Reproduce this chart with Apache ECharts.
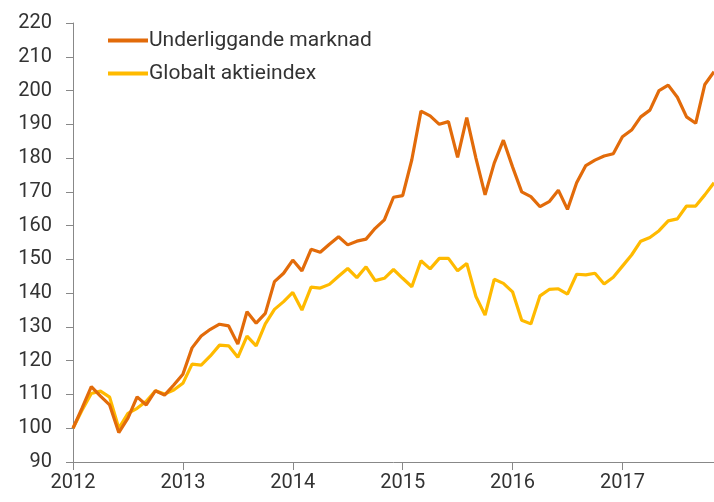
<!DOCTYPE html>
<html>
<head>
<meta charset="utf-8">
<script src="https://cdn.jsdelivr.net/npm/echarts@6/dist/echarts.min.js"></script>
<style>
  html, body { margin: 0; padding: 0; background: #fff; }
  #chart { width: 714px; height: 502px; }
</style>
</head>
<body>
<div id="chart"></div>
<script>
// monthly index values, Jan 2012 = 100
const startYear = 2012;
const seriesNames = ['Underliggande marknad', 'Globalt aktieindex'];
const marknad = [
  100, 106, 112.3, 109.5, 106.9, 98.7, 103, 109.3, 106.9, 111.1, 109.8, 112.8,
  116, 123.8, 127.3, 129.3, 130.8, 130.3, 124.9, 134.5, 131.1, 134, 143.4, 145.9,
  149.8, 146.6, 153, 152.1, 154.5, 156.7, 154.3, 155.4, 156, 159.2, 161.7, 168.4,
  168.9, 179.5, 193.9, 192.5, 190, 190.8, 180.2, 192, 180, 169.1, 178.5, 185.3,
  177.4, 170, 168.6, 165.6, 167.1, 170.5, 164.8, 172.7, 177.8, 179.4, 180.6, 181.3,
  186.3, 188.3, 192.2, 194.2, 200, 201.6, 198, 192.2, 190.3, 201.8, 205.6
];
const aktieindex = [
  100, 105.4, 110.3, 111, 109.2, 100, 104.4, 105.9, 108, 111.1, 110.1, 111.3,
  113.3, 119, 118.7, 121.4, 124.6, 124.4, 121, 127.3, 124.4, 130.9, 135.2, 137.5,
  140.2, 135, 141.8, 141.5, 142.6, 145, 147.3, 144.6, 147.8, 143.7, 144.4, 147,
  144.4, 141.9, 149.6, 147.2, 150.3, 150.3, 146.6, 148.8, 139, 133.5, 144.1, 142.9,
  140.4, 132, 130.9, 139.2, 141.1, 141.3, 139.7, 145.6, 145.4, 145.9, 142.7, 144.7,
  148, 151.3, 155.4, 156.5, 158.5, 161.4, 162, 165.8, 165.8, 169.1, 172.7
];

const colors = ['#E26B0A', '#FFBA00'];
const fontFamily = 'Roboto, "Noto Sans", sans-serif';

const toPoints = (arr) => arr.map((v, i) => [i, v]);

const chart = echarts.init(document.getElementById('chart'));
const option = {
  animation: false,
  color: colors,
  grid: { left: 73, right: 0, top: 23, bottom: 40 },
  legend: {
    orient: 'vertical',
    left: 103,
    top: 25,
    icon: 'rect',
    itemWidth: 40,
    itemHeight: 4,
    itemGap: 12,
    textStyle: { color: '#333', fontSize: 21, fontFamily: fontFamily, padding: [0, 0, 0, -4] },
    data: seriesNames
  },
  xAxis: {
    type: 'value',
    min: 0,
    max: 70,
    interval: 12,
    splitLine: { show: false },
    axisLine: { onZero: false, lineStyle: { color: '#888', width: 1 } },
    axisTick: { show: true, length: 8, lineStyle: { color: '#888' } },
    axisLabel: {
      color: '#333',
      fontSize: 20,
      fontFamily: fontFamily,
      margin: 11,
      formatter: (v) => String(startYear + v / 12)
    }
  },
  yAxis: {
    type: 'value',
    min: 90,
    max: 220,
    interval: 10,
    splitLine: { show: false },
    axisLine: { show: true, lineStyle: { color: '#888', width: 1 } },
    axisTick: { show: true, length: 7, lineStyle: { color: '#888' } },
    axisLabel: { color: '#333', fontSize: 20, fontFamily: fontFamily, margin: 21 }
  },
  series: [
    {
      name: seriesNames[0],
      type: 'line',
      data: toPoints(marknad),
      showSymbol: false,
      lineStyle: { width: 3.2, color: colors[0] },
      z: 3
    },
    {
      name: seriesNames[1],
      type: 'line',
      data: toPoints(aktieindex),
      showSymbol: false,
      lineStyle: { width: 3.2, color: colors[1] },
      z: 2
    }
  ]
};
chart.setOption(option);
</script>
</body>
</html>
